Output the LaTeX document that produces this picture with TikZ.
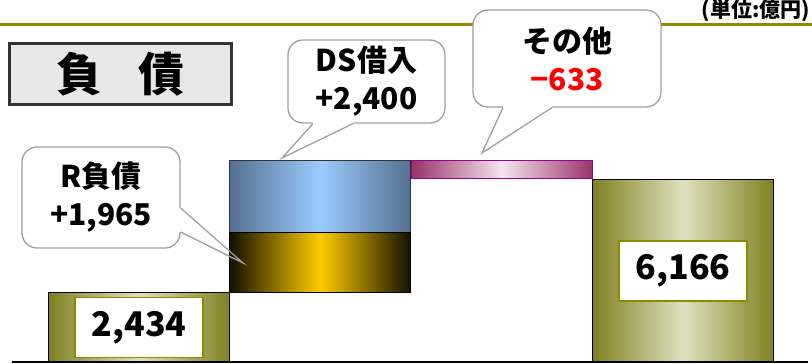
\documentclass[tikz,border=0pt]{standalone}
\usepackage{fontspec}
\setmainfont{Noto Sans CJK JP}
\usetikzlibrary{positioning}
\definecolor{olivedark}{RGB}{128,128,32}
\definecolor{olivelight}{RGB}{224,224,192}
\definecolor{oliverule}{RGB}{140,140,0}
\definecolor{bluedark}{RGB}{85,112,143}
\definecolor{bluelight}{RGB}{153,204,255}
\definecolor{golddark}{RGB}{20,16,0}
\definecolor{goldlight}{RGB}{255,204,0}
\definecolor{plumdark}{RGB}{153,51,102}
\definecolor{plumlight}{RGB}{243,228,240}
\definecolor{plumline}{RGB}{153,0,153}
\definecolor{calloutgray}{RGB}{160,160,160}
\definecolor{titlegray}{RGB}{232,232,232}
\definecolor{titleframe}{RGB}{51,51,51}

\begin{document}
\begin{tikzpicture}[x=1pt,y=-1pt]
\tikzset{font=\bfseries}
\tikzset{bar/.style={draw=black, line width=1.2pt, inner sep=0pt, anchor=north west, minimum width=181pt}}
\tikzset{olivebar/.style={bar, left color=olivedark, right color=olivedark, middle color=olivelight}}
\tikzset{bluebar/.style={bar, draw=titleframe, left color=bluedark, right color=bluedark, middle color=bluelight}}
\tikzset{goldbar/.style={bar, left color=golddark, right color=golddark, middle color=goldlight}}
\tikzset{plumbar/.style={bar, draw=plumline, left color=plumdark, right color=plumdark, middle color=plumlight}}
\tikzset{valuebox/.style={draw=oliverule, line width=1.5pt, fill=white, inner sep=0pt, minimum width=128pt, minimum height=60pt, font=\bfseries\fontsize{34}{34}\selectfont}}
\tikzset{bubble/.style={draw=calloutgray, line width=1.3pt, fill=white, rounded corners=15pt, inner sep=0pt, align=center, font=\bfseries\fontsize{30}{38}\selectfont}}
\tikzset{tail/.style={draw=calloutgray, line width=1.3pt}}
\tikzset{titlebox/.style={draw=titleframe, line width=3pt, fill=titlegray, inner sep=0pt, minimum width=222pt, minimum height=61pt, font=\bfseries\fontsize{46}{46}\selectfont}}

\useasboundingbox (0,0) rectangle (812,364);

\draw[oliverule, line width=3pt] (0,24) -- (812,24);
\node[anchor=east, inner sep=0pt, font=\bfseries\fontsize{21}{21}\selectfont] (unit) at (810,11) {(単位:億円)};
\node[titlebox] (title) at (120.5,74) {負\hspace{36pt}債};

\node[bubble, minimum width=158pt, minimum height=101pt] (rnote) at (101,197.5) {R負債\\+1,965};
\node[bubble, minimum width=157pt, minimum height=83pt] (dsnote) at (366.5,81.5) {DS借入\\+2,400};
\node[bubble, minimum width=188pt, minimum height=97pt] (othernote) at (567,58.5) {その他\\\textcolor{red}{−633}};
\coordinate (rtip) at (243,263);
\coordinate (dstip) at (282,158);
\coordinate (othertip) at (482,153);
\fill[white] ([xshift=-2pt,yshift=-10.5pt]rnote.east) -- ([yshift=-10.5pt]rnote.east) -- (rtip) -- ([yshift=-34.5pt]rnote.east) -- ([xshift=-2pt,yshift=-34.5pt]rnote.east) -- cycle;
\fill[white] ([xshift=-53.5pt,yshift=2pt]dsnote.south) -- ([xshift=-53.5pt]dsnote.south) -- (dstip) -- ([xshift=-13.5pt]dsnote.south) -- ([xshift=-13.5pt,yshift=2pt]dsnote.south) -- cycle;
\fill[white] ([xshift=-64pt,yshift=2pt]othernote.south) -- ([xshift=-64pt]othernote.south) -- (othertip) -- ([xshift=-15pt]othernote.south) -- ([xshift=-15pt,yshift=2pt]othernote.south) -- cycle;

\node[olivebar, minimum height=70pt] (start) at (48,292) {};
\node[bluebar, minimum height=72pt] (dsbar) at (229,160) {};
\node[goldbar, minimum height=60pt] (rbar) at (229,232) {};
\node[plumbar, minimum height=18pt] (otherbar) at (411,160) {};
\node[olivebar, minimum height=183pt] (end) at (592,179) {};
\node[valuebox] (startval) at (start.center) {2,434};
\node[valuebox] (endval) at (end.center) {6,166};
\draw[line width=1.6pt] (12,362) -- (808,362);

\draw[tail] ([yshift=-10.5pt]rnote.east) -- (rtip) -- ([yshift=-34.5pt]rnote.east);
\draw[tail] ([xshift=-53.5pt]dsnote.south) -- (dstip) -- ([xshift=-13.5pt]dsnote.south);
\draw[tail] ([xshift=-64pt]othernote.south) -- (othertip) -- ([xshift=-15pt]othernote.south);
\end{tikzpicture}
\end{document}
